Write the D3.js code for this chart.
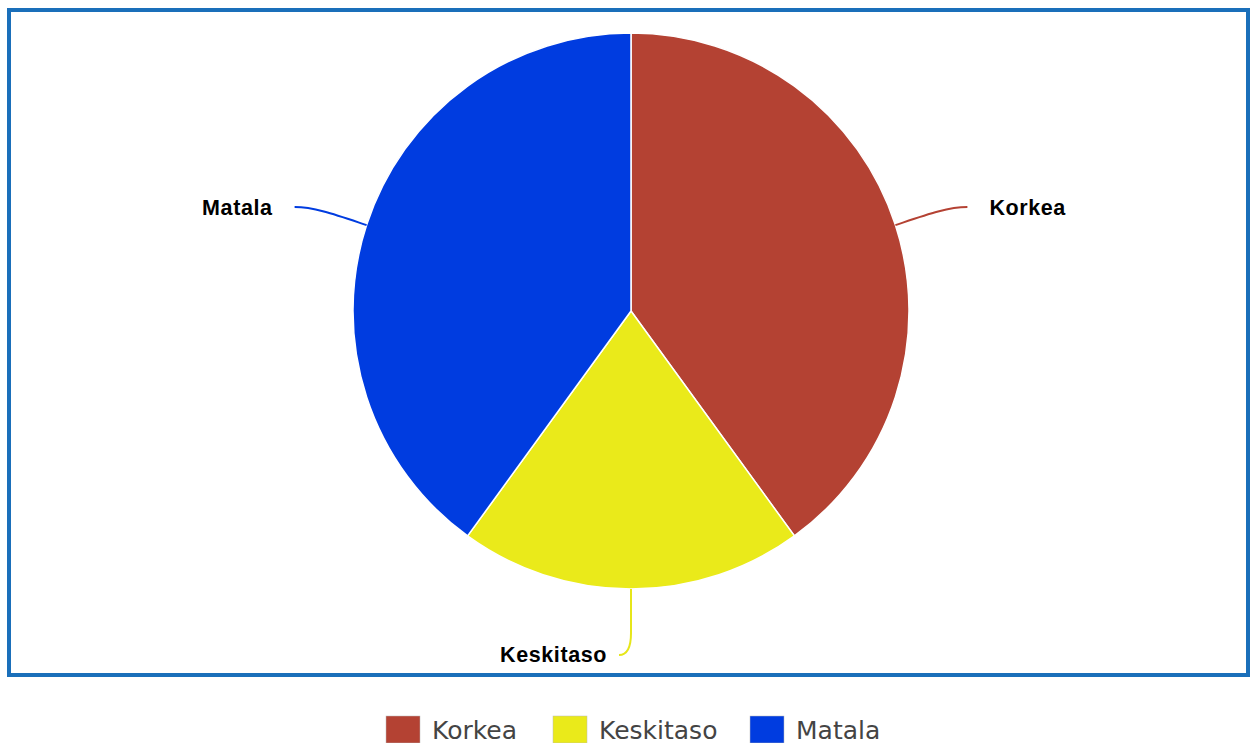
<!DOCTYPE html>
<html>
<head>
<meta charset="utf-8">
<script src="https://cdn.jsdelivr.net/npm/d3@7"></script>
<style>
  body { margin: 0; background: #fff; }
</style>
</head>
<body>
<div id="chart"></div>
<script>
// Chart data
let categories = ["Korkea", "Keskitaso", "Matala"];
let shares = [40, 20, 40];
let sliceColors = ["#b44233", "#eaea1a", "#003ce0"];

let width = 1252, height = 743;
let cx = 631, cy = 311, radius = 278;

let data = categories.map(function(c, i) {
  return {name: c, value: shares[i], color: sliceColors[i]};
});

let svg = d3.select("#chart")
  .append("svg")
  .attr("width", width)
  .attr("height", height);

// frame round the plot
svg.append("rect")
  .attr("x", 9)
  .attr("y", 10)
  .attr("width", 1239)
  .attr("height", 665)
  .attr("fill", "#fff")
  .attr("stroke", "#1a6fba")
  .attr("stroke-width", 4);

let pie = d3.pie()
  .sort(null)
  .value(function(d) { return d.value; });

let arc = d3.arc()
  .innerRadius(0)
  .outerRadius(radius);

let arcs = pie(data);

let g = svg.append("g")
  .attr("transform", "translate(" + cx + "," + cy + ")");

g.selectAll("path.slice")
  .data(arcs)
  .enter()
  .append("path")
  .attr("class", "slice")
  .attr("d", arc)
  .attr("fill", function(d) { return d.data.color; })
  .attr("stroke", "#fff")
  .attr("stroke-width", 1.5);

// connector lines + labels, placed from the slice mid angle
arcs.forEach(function(d) {
  let mid = (d.startAngle + d.endAngle) / 2;
  let sx = Math.sin(mid) * radius, sy = -Math.cos(mid) * radius;
  let path, tx, ty, anchor;
  if (d.data.name === "Keskitaso") {
    // straight down, then hooks to the left
    path = d3.path();
    path.moveTo(sx, sy);
    path.lineTo(sx, sy + 44);
    path.quadraticCurveTo(sx, sy + 66, sx - 12, sy + 66);
    tx = sx - 24; ty = sy + 73; anchor = "end";
  } else {
    let side = sx > 0 ? 1 : -1;
    let ex = sx + side * 72, ey = sy - 18;
    path = d3.path();
    path.moveTo(sx, sy);
    path.bezierCurveTo(sx + side * 30, sy - 10, ex - side * 20, ey, ex, ey);
    tx = ex + side * 22; ty = ey + 8; anchor = side > 0 ? "start" : "end";
  }
  g.append("path")
    .attr("d", path.toString())
    .attr("fill", "none")
    .attr("stroke", d.data.color === "#eaea1a" ? "#e6e61a" : d.data.color)
    .attr("stroke-width", 2);
  g.append("text")
    .attr("x", tx)
    .attr("y", ty)
    .attr("text-anchor", anchor)
    .attr("font-family", "Liberation Sans, Arial, sans-serif")
    .attr("font-weight", "bold")
    .attr("font-size", 21.5)
    .attr("letter-spacing", 0.6)
    .attr("fill", "#000")
    .text(d.data.name);
});

// legend
let legendX = [386, 553, 750];
let legend = svg.selectAll("g.legend")
  .data(data)
  .enter()
  .append("g")
  .attr("class", "legend")
  .attr("transform", function(d, i) { return "translate(" + legendX[i] + ",716)"; });

legend.append("rect")
  .attr("width", 34)
  .attr("height", 27)
  .attr("fill", function(d) { return d.color; })
  .attr("stroke", "#bbb")
  .attr("stroke-width", 0.5);

legend.append("text")
  .attr("x", 46)
  .attr("y", 23)
  .attr("font-family", "DejaVu Sans, sans-serif")
  .attr("font-size", 25)
  .attr("fill", "#444")
  .text(function(d) { return d.name; });
</script>
</body>
</html>
